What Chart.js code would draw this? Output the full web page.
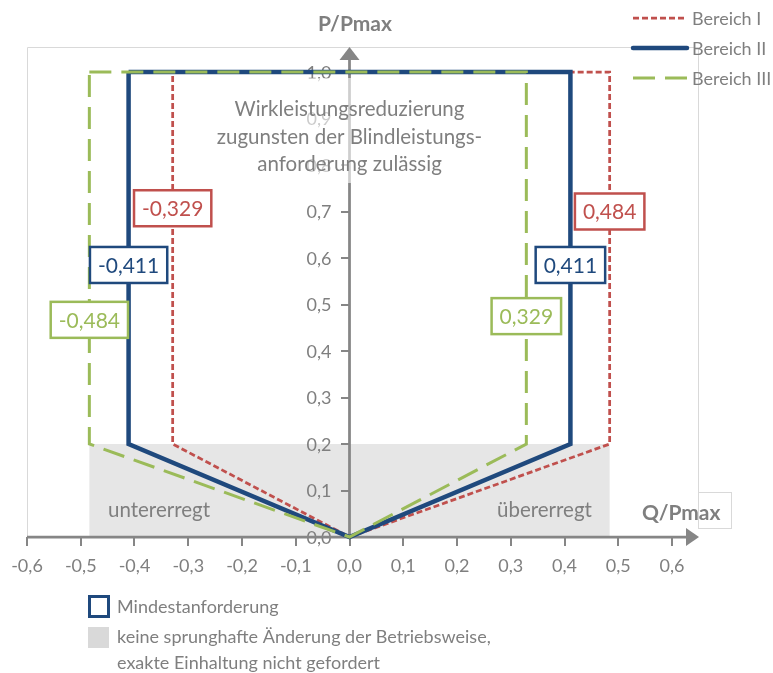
<!DOCTYPE html>
<html>
<head>
<meta charset="utf-8">
<script src="https://cdn.jsdelivr.net/npm/chart.js@4.4.1/dist/chart.umd.min.js"></script>
<style>
  html, body { margin: 0; padding: 0; background: #fff; }
  canvas { display: block; }
</style>
</head>
<body>
<canvas id="graficoBereiche" width="773" height="673"></canvas>
<script>
// Daten
const serien = ['Bereich I', 'Bereich II', 'Bereich III']
const bereich1Q = [-0.329, 0.484, 0.484, 0, -0.329, -0.329]
const bereich1P = [1.0, 1.0, 0.2, 0, 0.2, 1.0]
const bereich2Q = [-0.411, 0.411, 0.411, 0, -0.411, -0.411]
const bereich2P = [1.0, 1.0, 0.2, 0, 0.2, 1.0]
const bereich3Q = [-0.484, 0.329, 0.329, 0, -0.484, -0.484]
const bereich3P = [1.0, 1.0, 0.2, 0, 0.2, 1.0]
const xTicks = [-0.6, -0.5, -0.4, -0.3, -0.2, -0.1, 0, 0.1, 0.2, 0.3, 0.4, 0.5, 0.6]
const yTicks = [0, 0.1, 0.2, 0.3, 0.4, 0.5, 0.6, 0.7, 0.8, 0.9, 1.0]
const zoneQ = [-0.484, 0.484]
const zoneP = [0, 0.2]
const labelQ = [-0.329, -0.411, -0.484, 0.484, 0.411, 0.329]
const labelP = [0.707, 0.585, 0.467, 0.70, 0.585, 0.475]
const labelSerie = [0, 1, 2, 0, 1, 2]

const farben = ['#C0504D', '#1F497D', '#9BBB59']
const grau = '#7F7F7F'
const schrift = 'Lato, "Open Sans", sans-serif'

const zahl = (v, d) => (Math.abs(v) < 1e-9 ? 0 : v).toFixed(d).replace('.', ',')
const punkte = (q, p) => q.map((v, i) => ({ x: v, y: p[i] }))

const deko = {
  id: 'deko',
  beforeDraw(chart) {
    const { ctx, scales: { x, y } } = chart
    ctx.save()
    // Rahmen Zeichnungsfläche
    ctx.strokeStyle = '#D9D9D9'
    ctx.lineWidth = 1
    ctx.beginPath()
    ctx.moveTo(x.left + 0.5, y.bottom)
    ctx.lineTo(x.left + 0.5, 47.5)
    ctx.lineTo(698.5, 47.5)
    ctx.lineTo(698.5, 492.5)
    ctx.stroke()
    ctx.strokeRect(698.5, 492.5, 33, 36)
    // graue Zone
    const zx1 = x.getPixelForValue(zoneQ[0]), zx2 = x.getPixelForValue(zoneQ[1])
    const zy1 = y.getPixelForValue(zoneP[1]), zy2 = y.getPixelForValue(zoneP[0])
    ctx.fillStyle = '#E6E6E6'
    ctx.fillRect(zx1, zy1, zx2 - zx1, zy2 - zy1)
    ctx.restore()
  },
  beforeDatasetsDraw(chart) {
    const { ctx, scales: { x, y } } = chart
    const x0 = x.getPixelForValue(0), y0 = y.getPixelForValue(0)
    ctx.save()
    // Beschriftung der P-Achse links neben der Achse
    ctx.fillStyle = grau
    ctx.font = '18px ' + schrift
    ctx.textAlign = 'right'
    ctx.textBaseline = 'middle'
    y.ticks.forEach((t) => {
      ctx.fillText(zahl(t.value, 1), x0 - 18, y.getPixelForValue(t.value) + 1)
    })
    ctx.strokeStyle = '#868686'
    ctx.fillStyle = '#868686'
    ctx.lineWidth = 2.75
    ctx.beginPath()
    ctx.moveTo(x.left, y0)
    ctx.lineTo(688, y0)
    ctx.moveTo(x0, y0)
    ctx.lineTo(x0, 58)
    ctx.stroke()
    // Pfeile
    ctx.beginPath()
    ctx.moveTo(699, y0)
    ctx.lineTo(686, y0 - 9)
    ctx.lineTo(686, y0 + 9)
    ctx.closePath()
    ctx.fill()
    ctx.beginPath()
    ctx.moveTo(x0, 47)
    ctx.lineTo(x0 - 10, 60)
    ctx.lineTo(x0 + 10, 60)
    ctx.closePath()
    ctx.fill()
    // halbtransparentes Textfeld
    ctx.fillStyle = 'rgba(255,255,255,0.6)'
    ctx.fillRect(228, 78, 242, 105)
    ctx.restore()
  },
  afterDatasetsDraw(chart) {
    const { ctx, scales: { x, y } } = chart
    ctx.save()
    ctx.font = '21px ' + schrift
    ctx.textAlign = 'center'
    ctx.textBaseline = 'middle'
    labelQ.forEach((q, i) => {
      const cx = x.getPixelForValue(q), cy = y.getPixelForValue(labelP[i])
      const txt = zahl(q, 3)
      const w = ctx.measureText(txt).width + 16
      const h = 36
      ctx.fillStyle = '#fff'
      ctx.fillRect(cx - w / 2, cy - h / 2, w, h)
      ctx.strokeStyle = farben[labelSerie[i]]
      ctx.lineWidth = 2.5
      ctx.strokeRect(cx - w / 2, cy - h / 2, w, h)
      ctx.fillStyle = farben[labelSerie[i]]
      ctx.fillText(txt, cx, cy + 1)
    })
    ctx.restore()
  },
  afterDraw(chart) {
    const { ctx, scales: { x } } = chart
    const x0 = x.getPixelForValue(0)
    ctx.save()
    ctx.fillStyle = grau
    // Hinweistext
    ctx.font = '20.5px ' + schrift
    ctx.textAlign = 'center'
    ctx.textBaseline = 'alphabetic'
    ctx.fillText('Wirkleistungsreduzierung', x0, 116)
    ctx.fillText('zugunsten der Blindleistungs-', x0, 144)
    ctx.fillText('anforderung zulässig', x0, 171)
    ctx.textAlign = 'left'
    ctx.fillText('untererregt', 108, 517)
    ctx.fillText('übererregt', 497, 517)
    // Achsentitel
    ctx.font = 'bold 21px ' + schrift
    ctx.textAlign = 'center'
    ctx.fillText('P/Pmax', 355, 31)
    ctx.textAlign = 'left'
    ctx.fillText('Q/Pmax', 642, 520)
    // Legende oben
    ctx.font = '18px ' + schrift
    ctx.textBaseline = 'middle'
    const dashes = [[6, 3], [], [22, 10]]
    const breiten = [2.75, 4.5, 3]
    serien.forEach((s, i) => {
      const ly = 18 + i * 30
      ctx.strokeStyle = farben[i]
      ctx.lineWidth = breiten[i]
      ctx.setLineDash(dashes[i])
      ctx.lineCap = i === 1 ? 'round' : 'butt'
      ctx.beginPath()
      ctx.moveTo(633, ly)
      ctx.lineTo(687, ly)
      ctx.stroke()
      ctx.fillStyle = grau
      ctx.fillText(s, 692, ly + 1)
    })
    ctx.setLineDash([])
    // Legende unten
    ctx.strokeStyle = farben[1]
    ctx.lineWidth = 3
    ctx.strokeRect(89.5, 596.5, 19, 20)
    ctx.fillStyle = '#D9D9D9'
    ctx.fillRect(88, 627, 21, 21)
    ctx.fillStyle = grau
    ctx.font = '18px ' + schrift
    ctx.fillText('Mindestanforderung', 117, 607)
    ctx.fillText('keine sprunghafte Änderung der Betriebsweise,', 117, 637)
    ctx.fillText('exakte Einhaltung nicht gefordert', 117, 663)
    ctx.restore()
  }
}

const lienzo = document.getElementById('graficoBereiche')

new Chart(lienzo, {
  type: 'scatter',
  data: {
    datasets: [
      {
        label: serien[0],
        data: punkte(bereich1Q, bereich1P),
        borderColor: farben[0],
        borderWidth: 2.75,
        borderDash: [6, 3],
        order: 2,
      },
      {
        label: serien[1],
        data: punkte(bereich2Q, bereich2P),
        borderColor: farben[1],
        borderWidth: 4.5,
        order: 1,
      },
      {
        label: serien[2],
        data: punkte(bereich3Q, bereich3P),
        borderColor: farben[2],
        borderWidth: 3,
        borderDash: [22, 10],
        order: 0,
      },
    ],
  },
  options: {
    responsive: false,
    animation: false,
    layout: { padding: { left: 27, right: 101, top: 72, bottom: 136 } },
    datasets: {
      scatter: {
        showLine: true,
        pointRadius: 0,
        pointHoverRadius: 0,
        fill: false,
        clip: false,
        borderJoinStyle: 'miter',
        borderCapStyle: 'butt',
        tension: 0,
      },
    },
    plugins: {
      legend: { display: false },
      tooltip: { enabled: false },
    },
    scales: {
      x: {
        type: 'linear',
        min: -0.6,
        max: 0.6,
        position: { y: 0 },
        afterBuildTicks: (s) => { s.ticks = xTicks.map((v) => ({ value: v })) },
        ticks: {
          callback: (v) => zahl(v, 1),
          color: grau,
          font: { family: schrift, size: 18 },
          padding: 9,
          maxRotation: 0,
          autoSkip: false,
        },
        grid: { drawOnChartArea: false, drawTicks: true, tickLength: 9, color: '#868686', lineWidth: 2 },
        border: { display: false },
      },
      y: {
        type: 'linear',
        min: 0,
        max: 1.0,
        position: { x: 0 },
        afterBuildTicks: (s) => { s.ticks = yTicks.map((v) => ({ value: v })) },
        ticks: { display: false },
        grid: { drawOnChartArea: false, drawTicks: true, tickLength: 9, color: '#868686', lineWidth: 2 },
        border: { display: false },
      },
    },
  },
  plugins: [deko],
})
</script>
</body>
</html>
